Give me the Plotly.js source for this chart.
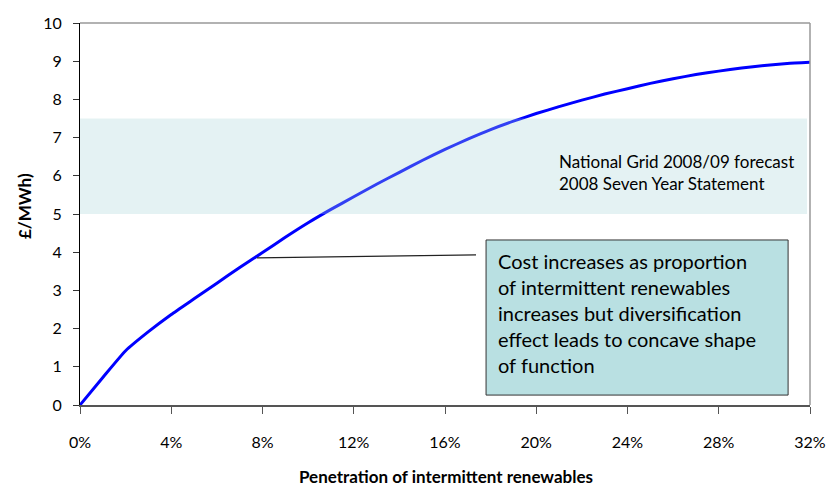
<!DOCTYPE html>
<html>
<head>
<meta charset="utf-8">
<script src="https://cdn.plot.ly/plotly-3.0.1.min.js"></script>
<style>html,body{margin:0;padding:0;background:#fff;}#chart{width:830px;height:488px;}</style>
</head>
<body>
<div id="chart"></div>
<script>
// Data
var penetration = [0, 1, 2, 3, 4, 5, 6, 7, 8, 9, 10, 11, 12, 13, 14, 15, 16, 17, 18, 19, 20, 21, 22, 23, 24, 25, 26, 27, 28, 29, 30, 31, 32];
var costPerMWh  = [0, 0.72, 1.42, 1.92, 2.37, 2.78, 3.19, 3.6, 3.99, 4.39, 4.77, 5.12, 5.45, 5.78, 6.09, 6.4, 6.69, 6.96, 7.21, 7.43, 7.63, 7.81, 7.98, 8.14, 8.28, 8.42, 8.54, 8.65, 8.74, 8.82, 8.89, 8.94, 8.97];
var xTickVals = [0, 4, 8, 12, 16, 20, 24, 28, 32];
var xTickText = ['0%', '4%', '8%', '12%', '16%', '20%', '24%', '28%', '32%'];
var yTickVals = [0, 1, 2, 3, 4, 5, 6, 7, 8, 9, 10];
var forecastBand = [5, 7.5];
var bandText = ['National Grid 2008/09 forecast', '2008 Seven Year Statement'];
var noteText = ['Cost increases as proportion', 'of intermittent renewables', 'increases but diversification', 'effect leads to concave shape', 'of function'];
var xTitle = 'Penetration of intermittent renewables';
var yTitle = '£/MWh)';

var FONT = 'Lato, "Open Sans", "DejaVu Sans", sans-serif';

var trace = {
  x: penetration,
  y: costPerMWh,
  type: 'scatter',
  mode: 'lines',
  line: {color: '#0000ff', width: 3, shape: 'spline', smoothing: 0.5},
  cliponaxis: false,
  hoverinfo: 'skip'
};

var layout = {
  width: 830,
  height: 488,
  margin: {l: 80, r: 20, t: 23, b: 83},
  paper_bgcolor: '#ffffff',
  plot_bgcolor: '#ffffff',
  showlegend: false,
  font: {family: FONT, size: 16, color: '#000'},
  xaxis: {
    range: [0, 32],
    tickvals: xTickVals,
    ticktext: xTickText,
    showgrid: false,
    zeroline: false,
    showline: true,
    linecolor: '#555555',
    linewidth: 2,
    ticks: 'outside',
    ticklen: 7,
    tickcolor: '#555555',
    tickwidth: 1,
    ticklabelstandoff: 15,
    tickfont: {family: FONT, size: 16, color: '#000'},
    fixedrange: true
  },
  yaxis: {
    range: [0, 10],
    tickvals: yTickVals,
    showgrid: false,
    zeroline: false,
    showline: true,
    linecolor: '#000000',
    linewidth: 1,
    ticks: 'outside',
    ticklen: 6,
    tickcolor: '#333333',
    tickwidth: 1,
    ticklabelstandoff: 8,
    tickfont: {family: FONT, size: 16, color: '#000'},
    fixedrange: true
  },
  shapes: [
    {type: 'line', xref: 'paper', yref: 'paper', x0: 0, x1: 1, y0: 1, y1: 1, line: {color: '#999999', width: 1.5}},
    {type: 'line', xref: 'paper', yref: 'paper', x0: 1, x1: 1, y0: 0, y1: 1, line: {color: '#999999', width: 1.5}},
    {type: 'rect', xref: 'x', yref: 'y', x0: 0, x1: 31.87, y0: forecastBand[0], y1: forecastBand[1],
     fillcolor: 'rgba(165,212,215,0.3)', line: {width: 0}, layer: 'above'},
    {type: 'line', xref: 'x', yref: 'y', x0: 7.76, y0: 3.85, x1: 17.36, y1: 3.93,
     line: {color: '#222222', width: 1.2}},
    {type: 'rect', xref: 'x', yref: 'y', x0: 17.8, x1: 31.04, y0: 0.26, y1: 4.32,
     fillcolor: '#b9e0e2', line: {color: '#333333', width: 1}, layer: 'above'}
  ],
  annotations: [
    {xref: 'paper', yref: 'paper', x: 0, y: 0.5, xshift: -56, yshift: 8, textangle: -90,
     text: '<b>' + yTitle + '</b>', showarrow: false, font: {family: FONT, size: 17, color: '#000'},
     xanchor: 'center', yanchor: 'middle'},
    {xref: 'paper', yref: 'paper', x: 0.501, y: 0, yshift: -71,
     text: '<b>' + xTitle + '</b>', showarrow: false, font: {family: FONT, size: 17, color: '#000'},
     xanchor: 'center', yanchor: 'middle'},
    {xref: 'x', yref: 'y', x: 20.9, y: 6.08, xanchor: 'left', yanchor: 'middle', align: 'left',
     text: bandText.join('<br>'), showarrow: false, font: {family: FONT, size: 17, color: '#000'}},
    {xref: 'x', yref: 'y', x: 18.25, y: 2.42, xanchor: 'left', yanchor: 'middle', align: 'left',
     text: noteText.join('<br>'), showarrow: false, font: {family: FONT, size: 20, color: '#000'}}
  ]
};

Plotly.newPlot('chart', [trace], layout, {displayModeBar: false, staticPlot: true});
</script>
</body>
</html>
